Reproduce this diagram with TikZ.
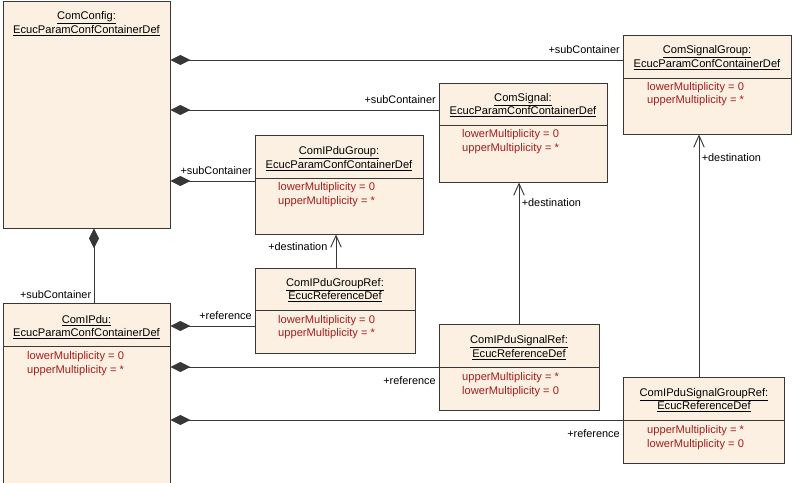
\documentclass[tikz,border=0pt]{standalone}
\usepackage{fontspec}
\setmainfont{Liberation Sans}
\usetikzlibrary{arrows.meta}
\definecolor{clsfill}{RGB}{251,240,225}
\definecolor{attrred}{RGB}{165,28,28}
\definecolor{linegray}{RGB}{55,55,55}

\begin{document}
\begin{tikzpicture}[x=0.03cm,y=-0.03cm,font=\fontsize{9.5}{11.6}\selectfont,
  cls/.style={draw=linegray,line width=0.8pt,fill=clsfill,inner sep=0pt},
  sz/.style 2 args={minimum width=#1*0.03cm,minimum height=#2*0.03cm},
  title/.style={align=center,inner sep=0pt},
  attr/.style={align=left,anchor=west,inner sep=0pt,text=attrred},
  lbl/.style={inner sep=2pt,font=\fontsize{9.3}{11}\selectfont},
  up/.style={above left,yshift=3pt},
  down/.style={below left,yshift=-6pt},
  comp/.style={draw=linegray,line width=0.8pt,-{Diamond[length=17pt,width=8.5pt]}},
  dest/.style={draw=linegray,line width=0.8pt,-{Straight Barb[length=10pt,width=9pt]}}]

\useasboundingbox (0,0) rectangle (793,483);

% containers
\node[cls,sz={167}{227}] (ComConfig) at (86.5,114.5) {};
\node[title] (ComConfigT) at (86.5,23.5) {\underline{ComConfig:}\\\underline{EcucParamConfContainerDef}};

\node[cls,sz={168}{99}] (ComSignalGroup) at (707,84.5) {};
\draw[linegray,line width=0.8pt] (ComSignalGroup.west |- 0,78) -- (ComSignalGroup.east |- 0,78);
\node[title] (ComSignalGroupT) at (707,57.5) {\underline{ComSignalGroup:}\\\underline{EcucParamConfContainerDef}};
\node[attr] (ComSignalGroupA) at (647,94) {lowerMultiplicity = 0\\upperMultiplicity = *};

\node[cls,sz={168}{99}] (ComSignal) at (523,132.5) {};
\draw[linegray,line width=0.8pt] (ComSignal.west |- 0,125) -- (ComSignal.east |- 0,125);
\node[title] (ComSignalT) at (523,105) {\underline{ComSignal:}\\\underline{EcucParamConfContainerDef}};
\node[attr] (ComSignalA) at (462,141.5) {lowerMultiplicity = 0\\upperMultiplicity = *};

\node[cls,sz={168}{99}] (ComIPduGroup) at (339,184.5) {};
\draw[linegray,line width=0.8pt] (ComIPduGroup.west |- 0,178) -- (ComIPduGroup.east |- 0,178);
\node[title] (ComIPduGroupT) at (339,158.5) {\underline{ComIPduGroup:}\\\underline{EcucParamConfContainerDef}};
\node[attr] (ComIPduGroupA) at (278,194.5) {lowerMultiplicity = 0\\upperMultiplicity = *};

\node[cls,sz={167}{195}] (ComIPdu) at (86.5,400.5) {};
\draw[linegray,line width=0.8pt] (ComIPdu.west |- 0,346) -- (ComIPdu.east |- 0,346);
\node[title] (ComIPduT) at (86.5,327) {\underline{ComIPdu:}\\\underline{EcucParamConfContainerDef}};
\node[attr] (ComIPduA) at (27,363.5) {lowerMultiplicity = 0\\upperMultiplicity = *};

% references
\node[cls,sz={160}{85}] (ComIPduGroupRef) at (335,310.5) {};
\draw[linegray,line width=0.8pt] (ComIPduGroupRef.west |- 0,310) -- (ComIPduGroupRef.east |- 0,310);
\node[title] (ComIPduGroupRefT) at (335,290) {\underline{ComIPduGroupRef:}\\\underline{EcucReferenceDef}};
\node[attr] (ComIPduGroupRefA) at (278,327) {lowerMultiplicity = 0\\upperMultiplicity = *};

\node[cls,sz={160}{86}] (ComIPduSignalRef) at (519,367) {};
\draw[linegray,line width=0.8pt] (ComIPduSignalRef.west |- 0,367) -- (ComIPduSignalRef.east |- 0,367);
\node[title] (ComIPduSignalRefT) at (519,347.5) {\underline{ComIPduSignalRef:}\\\underline{EcucReferenceDef}};
\node[attr] (ComIPduSignalRefA) at (462,384.5) {upperMultiplicity = *\\lowerMultiplicity = 0};

\node[cls,sz={161}{86}] (ComIPduSignalGroupRef) at (703.5,420) {};
\draw[linegray,line width=0.8pt] (ComIPduSignalGroupRef.west |- 0,420) -- (ComIPduSignalGroupRef.east |- 0,420);
\node[title] (ComIPduSignalGroupRefT) at (704,400) {\underline{ComIPduSignalGroupRef:}\\\underline{EcucReferenceDef}};
\node[attr] (ComIPduSignalGroupRefA) at (647,437.5) {upperMultiplicity = *\\lowerMultiplicity = 0};

% aggregation
\draw[comp] (ComSignalGroup.west |- 0,60) -- node[lbl,at start,up] {+subContainer} (ComConfig.east |- 0,60);
\draw[comp] (ComSignal.west |- 0,110) -- node[lbl,at start,up] {+subContainer} (ComConfig.east |- 0,110);
\draw[comp] (ComIPduGroup.west |- 0,181) -- node[lbl,at start,up] {+subContainer} (ComConfig.east |- 0,181);
\draw[comp] (ComIPdu.north -| 94,0) -- node[lbl,at start,above left,yshift=1pt] {+subContainer} (ComConfig.south -| 94,0);

\draw[comp] (ComIPduGroupRef.west |- 0,326) -- node[lbl,at start,up] {+reference} (ComIPdu.east |- 0,326);
\draw[comp] (ComIPduSignalRef.west |- 0,367) -- node[lbl,at start,down] {+reference} (ComIPdu.east |- 0,367);
\draw[comp] (ComIPduSignalGroupRef.west |- 0,420) -- node[lbl,at start,down] {+reference} (ComIPdu.east |- 0,420);

% destinations
\draw[dest] (ComIPduGroupRef.north -| 336,0) -- node[lbl,at end,anchor=east,xshift=-5pt,yshift=-0.36cm] {+destination} (ComIPduGroup.south -| 336,0);
\draw[dest] (ComIPduSignalRef.north) -- node[lbl,at end,anchor=west,yshift=-0.6cm] {+destination} (ComSignal.south -| ComIPduSignalRef.north);
\draw[dest] (ComIPduSignalGroupRef.north -| 699,0) -- node[lbl,at end,anchor=west,yshift=-0.69cm] {+destination} (ComSignalGroup.south -| 699,0);

\end{tikzpicture}
\end{document}
